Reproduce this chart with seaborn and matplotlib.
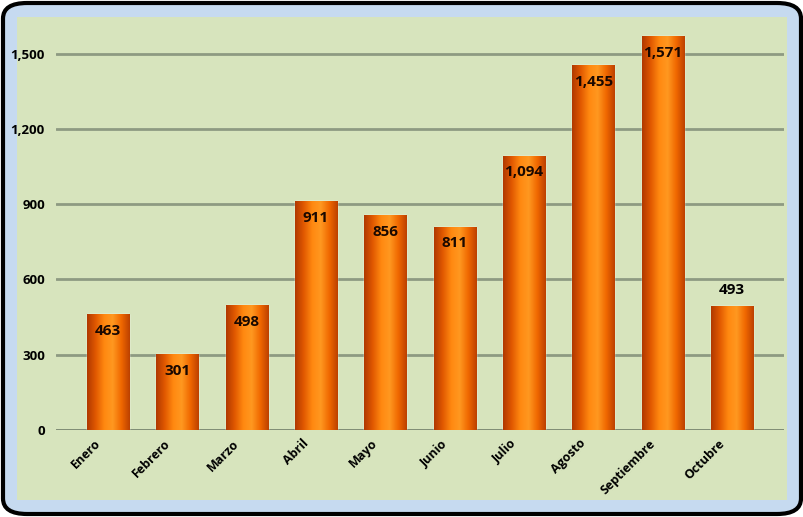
import numpy as np
import pandas as pd
import seaborn as sns
import matplotlib.pyplot as plt
import matplotlib.transforms as mtransforms
from matplotlib.patches import FancyBboxPatch, Rectangle
from matplotlib.colors import LinearSegmentedColormap

months = ["Enero", "Febrero", "Marzo", "Abril", "Mayo", "Junio",
          "Julio", "Agosto", "Septiembre", "Octubre"]
values = [463, 301, 498, 911, 856, 811, 1094, 1455, 1571, 493]
yticks = [0, 300, 600, 900, 1200, 1500]

sns.set_style("white")
plt.rcParams["font.family"] = ["Open Sans", "DejaVu Sans"]
plt.rcParams["text.color"] = "black"

fig = plt.figure(figsize=(8.04, 5.17), dpi=100)
fig.patch.set_facecolor("white")

# outer frame: blue panel with black rounded border, green inner panel
fig.patches.append(FancyBboxPatch((3 / 804, 3 / 517), 798 / 804, 511 / 517,
                                  boxstyle="round,pad=0,rounding_size=0.03",
                                  transform=fig.transFigure, facecolor="#C6DAF0",
                                  edgecolor="black", linewidth=3, zorder=-2))
fig.patches.append(Rectangle((17 / 804, 17 / 517), 770 / 804, 483 / 517,
                             transform=fig.transFigure, facecolor="#D7E4BD",
                             edgecolor="none", zorder=-1))

ax = fig.add_axes([56 / 804, 1 - 430 / 517, 728 / 804, 414 / 517])
ax.set_facecolor("none")

df = pd.DataFrame({"mes": months, "valor": values})
sns.barplot(data=df, x="mes", y="valor", color="#FF7A00", width=0.61,
            ax=ax, zorder=3)

# cylinder-like horizontal gradient on each bar
cmap = LinearSegmentedColormap.from_list(
    "cyl", ["#B03800", "#E05800", "#FF8810", "#FF9820", "#F06800", "#BC4000"])
grad = np.linspace(0, 1, 256).reshape(1, -1)
for bar in ax.patches:
    x0, w, h = bar.get_x(), bar.get_width(), bar.get_height()
    im = ax.imshow(grad, cmap=cmap, aspect="auto", extent=[x0, x0 + w, 0, h],
                   zorder=4)
    im.set_clip_path(bar)

ax.set_xlim(-0.75, 9.75)
ax.set_ylim(0, 1650)
ax.grid(axis="y", color="#8E9A82", linewidth=2, zorder=0)
ax.set_axisbelow(True)
for s in ax.spines.values():
    s.set_visible(False)
ax.axhline(0, color="#7F8C74", linewidth=2, zorder=2)
ax.set_xlabel("")
ax.set_ylabel("")
ax.tick_params(length=0)
ax.tick_params(axis="y", pad=8)
ax.tick_params(axis="x", pad=5)

ax.set_yticks(yticks, [f"{v:,}" for v in yticks],
              fontsize=9.5, fontweight="bold", color="black")
ax.set_xticks(range(len(months)), months, fontsize=9, fontweight="bold",
              color="black", rotation=45, ha="right", rotation_mode="anchor")
offset = mtransforms.ScaledTranslation(-14 / 100, 0, fig.dpi_scale_trans)
for lab in ax.get_xticklabels():
    lab.set_transform(lab.get_transform() + offset)

for i, v in enumerate(values):
    if i == len(values) - 1:
        ax.annotate(f"{v:,}", (i, v), xytext=(0, 7), textcoords="offset points",
                    ha="center", va="bottom", fontsize=11, fontweight="bold",
                    color="black", zorder=6)
    else:
        ax.annotate(f"{v:,}", (i, v), xytext=(0, -7), textcoords="offset points",
                    ha="center", va="top", fontsize=11, fontweight="bold",
                    color="#1A0800", zorder=6)

fig.savefig("out.png", dpi=100)
